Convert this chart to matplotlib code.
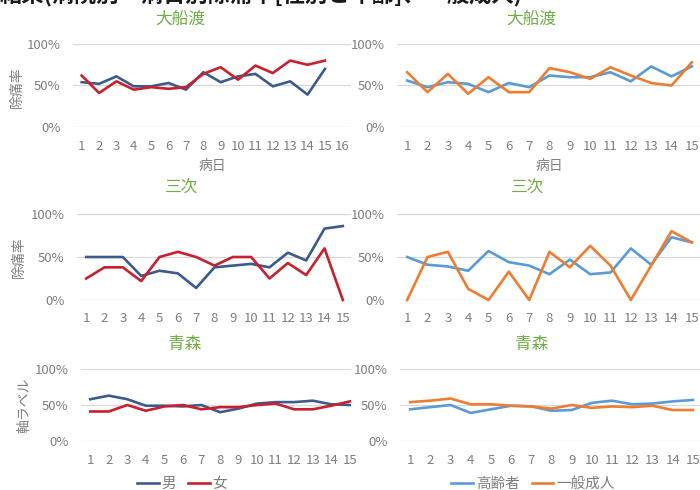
import matplotlib
matplotlib.use("Agg")
import matplotlib.pyplot as plt
from matplotlib.lines import Line2D

plt.rcParams['font.family'] = ['Noto Sans CJK JP', 'DejaVu Sans']

# ---------------- data ----------------
days = list(range(1, 16))
panel_titles = ["大船渡", "三次", "青森"]
ylabels = ["除痛率", "除痛率", "軸ラベル"]
sex_labels = ["男", "女"]
age_labels = ["高齢者", "一般成人"]

ofunato_male = [54, 52, 61, 49, 49, 53, 45, 66, 54, 61, 64, 49, 55, 39, 70]
ofunato_female = [62, 41, 55, 45, 48, 46, 48, 64, 72, 57, 74, 65, 80, 75, 80]
ofunato_elder = [56, 48, 54, 52, 42, 53, 48, 62, 60, 60, 66, 55, 73, 61, 73]
ofunato_adult = [66, 42, 64, 40, 60, 42, 42, 71, 66, 58, 72, 62, 53, 50, 78]

miyoshi_male = [50, 50, 50, 28, 34, 31, 14, 38, 40, 42, 38, 55, 46, 83, 86]
miyoshi_female = [25, 38, 38, 22, 50, 56, 50, 40, 50, 50, 25, 43, 29, 60, 0]
miyoshi_elder = [50, 41, 39, 34, 57, 44, 40, 30, 47, 30, 32, 60, 41, 73, 67]
miyoshi_adult = [0, 50, 56, 13, 0, 33, 0, 56, 38, 63, 40, 0, 40, 80, 67]

aomori_male = [58, 63, 58, 49, 49, 48, 50, 40, 45, 52, 54, 54, 56, 51, 50]
aomori_female = [41, 41, 50, 42, 48, 50, 44, 47, 47, 50, 52, 44, 44, 49, 55]
aomori_elder = [44, 47, 50, 39, 44, 49, 48, 42, 43, 53, 56, 51, 52, 55, 57]
aomori_adult = [54, 56, 59, 51, 51, 49, 48, 45, 50, 46, 48, 47, 49, 43, 43]

sex_data = [(ofunato_male, ofunato_female), (miyoshi_male, miyoshi_female),
            (aomori_male, aomori_female)]
age_data = [(ofunato_elder, ofunato_adult), (miyoshi_elder, miyoshi_adult),
            (aomori_elder, aomori_adult)]

# ---------------- style ----------------
W, H = 700, 490
C_MALE = "#3C5B8C"
C_FEMALE = "#C8202F"
C_ELDER = "#5B9BD5"
C_ADULT = "#ED7D31"
C_TITLE = "#70AD47"
C_TEXT = "#7F7F7F"
C_GRID = "#D9D9D9"

fig = plt.figure(figsize=(7, 4.9), dpi=100)


def add_ax(x0, y0, x1, y1):
    return fig.add_axes([x0 / W, 1 - y1 / H, (x1 - x0) / W, (y1 - y0) / H])


def style(ax, ncat, clip_x=None):
    ax.set_ylim(0, 1)
    ax.set_xlim(0.5, ncat + 0.5)
    ax.set_xticks(range(1, ncat + 1))
    ax.set_xticklabels([str(i) for i in range(1, ncat + 1)])
    ax.set_yticks([0, 0.5, 1.0])
    ax.set_yticklabels(["0%", "50%", "100%"])
    for s in ax.spines.values():
        s.set_visible(False)
    ax.tick_params(length=0, colors=C_TEXT, labelsize=9.5)
    ax.tick_params(axis='x', pad=9)
    ax.tick_params(axis='y', pad=9)
    xmax = 1.0
    if clip_x is not None:
        xmax = clip_x
    for v in [0, 0.5, 1.0]:
        ax.axhline(v, xmin=0, xmax=xmax, color=C_GRID, lw=0.9, zorder=0)


# axes rectangles in pixels (x0, y0, x1, y1)
left_rects = [(73, 44, 351, 127), (77, 214, 352, 300), (81, 369, 359, 441)]
right_rects = [(397, 44, 702, 127), (397, 214, 702, 300), (400, 369, 703, 441)]
left_ncat = [16, 15, 15]
title_y = [19, 188, 344]
title_x_left = [180, 181, 185]
title_x_right = [531, 527, 532]
ylabel_pos = [(17, 87), (19, 257), (24, 405)]

for i in range(3):
    # left: sex
    r = left_rects[i]
    axl = add_ax(*r)
    clip = min(1.0, (350 - r[0]) / (r[2] - r[0]))
    style(axl, left_ncat[i], clip)
    m, f = sex_data[i]
    axl.plot(days, [v / 100 for v in m], color=C_MALE, lw=1.9, clip_on=False, zorder=3)
    axl.plot(days, [v / 100 for v in f], color=C_FEMALE, lw=1.9, clip_on=False, zorder=4)

    # right: age
    r2 = right_rects[i]
    axr = add_ax(*r2)
    style(axr, 15)
    e, a = age_data[i]
    axr.plot(days, [v / 100 for v in e], color=C_ELDER, lw=1.9, clip_on=False, zorder=3)
    axr.plot(days, [v / 100 for v in a], color=C_ADULT, lw=1.9, clip_on=False, zorder=4)

    fig.text(title_x_left[i] / W, 1 - title_y[i] / H, panel_titles[i], color=C_TITLE,
             fontsize=12, ha='center', va='center')
    fig.text(title_x_right[i] / W, 1 - title_y[i] / H, panel_titles[i], color=C_TITLE,
             fontsize=12, ha='center', va='center')
    fig.text(ylabel_pos[i][0] / W, 1 - ylabel_pos[i][1] / H, ylabels[i], color=C_TEXT,
             fontsize=10, rotation=90, ha='center', va='center')

    if i == 0:
        fig.text(212 / W, 1 - 166 / H, "病日", color=C_TEXT, fontsize=10,
                 ha='center', va='center')
        fig.text(549 / W, 1 - 166 / H, "病日", color=C_TEXT, fontsize=10,
                 ha='center', va='center')

# legends
h_sex = [Line2D([], [], color=C_MALE, lw=1.9), Line2D([], [], color=C_FEMALE, lw=1.9)]
fig.legend(h_sex, sex_labels, loc='center', bbox_to_anchor=(182 / W, 1 - 484 / H),
           ncol=2, frameon=False, fontsize=10.5, labelcolor=C_TEXT, handlelength=1.5,
           handletextpad=0.2, columnspacing=0.8)
h_age = [Line2D([], [], color=C_ELDER, lw=1.9), Line2D([], [], color=C_ADULT, lw=1.9)]
fig.legend(h_age, age_labels, loc='center', bbox_to_anchor=(533 / W, 1 - 484 / H),
           ncol=2, frameon=False, fontsize=10.5, labelcolor=C_TEXT, handlelength=1.5,
           handletextpad=0.2, columnspacing=0.8)

# top title (cut off at the figure edge as in the reference)
fig.text(0.0, 1 - 6 / H, "結果(病院別・病日別除痛率[性別と年齢]、一般成人)",
         color="#1A1A1A", fontsize=16, fontweight='bold', ha='left', va='bottom')

fig.savefig("out.png", dpi=100)
